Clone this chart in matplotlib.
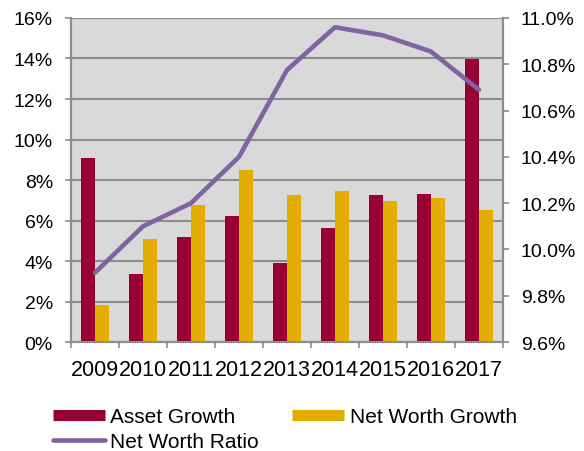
import numpy as np
import matplotlib.pyplot as plt
from matplotlib.lines import Line2D
from matplotlib.ticker import FuncFormatter, MultipleLocator

plt.rcParams['font.family'] = ['Liberation Sans', 'DejaVu Sans']

# data
years = ["2009", "2010", "2011", "2012", "2013", "2014", "2015", "2016", "2017"]
asset_growth = [9.07, 3.34, 5.17, 6.24, 3.90, 5.65, 7.28, 7.31, 13.96]
net_worth_growth = [1.83, 5.09, 6.78, 8.49, 7.28, 7.46, 6.96, 7.09, 6.52]
net_worth_ratio = [9.90, 10.10, 10.20, 10.40, 10.775, 10.96, 10.925, 10.855, 10.69]

red = "#990033"
gold = "#E2AC00"
purple = "#8064A2"
grid_c = "#8C8C8C"
fs = 14

fig = plt.figure(figsize=(5.84, 4.52), dpi=100)
ax = fig.add_axes([0.1216, 0.241, 0.7396, 0.717])
ax.set_facecolor("#D9D9D9")

x = np.arange(len(years))
w = 0.285
ax.bar(x - w / 2, asset_growth, w, color=red, zorder=3)
ax.bar(x + w / 2, net_worth_growth, w, color=gold, zorder=3)

ax.set_xlim(-0.5, len(years) - 0.5)
ax.set_ylim(0, 16)
ax.yaxis.set_major_locator(MultipleLocator(2))
ax.yaxis.set_major_formatter(FuncFormatter(lambda v, p: f"{v:.0f}%"))
ax.grid(axis="y", color=grid_c, lw=1.5, zorder=1)

ax.set_xticks(x)
ax.set_xticklabels(years)
ax.set_xticks(np.arange(len(years) + 1) - 0.5, minor=True)
ax.tick_params(axis="x", which="major", length=0, labelsize=15.5, pad=12)
ax.tick_params(axis="x", which="minor", length=4, width=1.2, color=grid_c)
ax.tick_params(axis="y", length=4, width=1.2, color=grid_c, labelsize=fs, pad=9)

for s in ax.spines.values():
    s.set_color(grid_c)
    s.set_linewidth(1.5)
ax.spines["top"].set_visible(False)

ax2 = ax.twinx()
ax2.plot(x, net_worth_ratio, color=purple, lw=3.3, solid_capstyle="round", zorder=4)
ax2.set_ylim(9.6, 11.0)
ax2.yaxis.set_major_locator(MultipleLocator(0.2))
ax2.yaxis.set_major_formatter(FuncFormatter(lambda v, p: f"{v:.1f}%"))
ax2.tick_params(axis="y", length=4, width=1.2, color=grid_c, labelsize=fs, pad=9)
for s in ax2.spines.values():
    s.set_color(grid_c)
    s.set_linewidth(1.5)
ax2.spines["top"].set_visible(False)

handles = [
    Line2D([], [], color=red, lw=8, solid_capstyle="butt"),
    Line2D([], [], color=purple, lw=3.3, solid_capstyle="round"),
    Line2D([], [], color=gold, lw=8, solid_capstyle="butt"),
]
labels = ["Asset Growth", "Net Worth Ratio", "Net Worth Growth"]
fig.legend(handles, labels, ncol=2, loc="upper left", bbox_to_anchor=(0.073, 0.12),
           frameon=False, fontsize=15,
           handlelength=2.5, handletextpad=0.25, columnspacing=1.6,
           labelspacing=0.3, borderpad=0)

fig.savefig("out.png", dpi=100)
